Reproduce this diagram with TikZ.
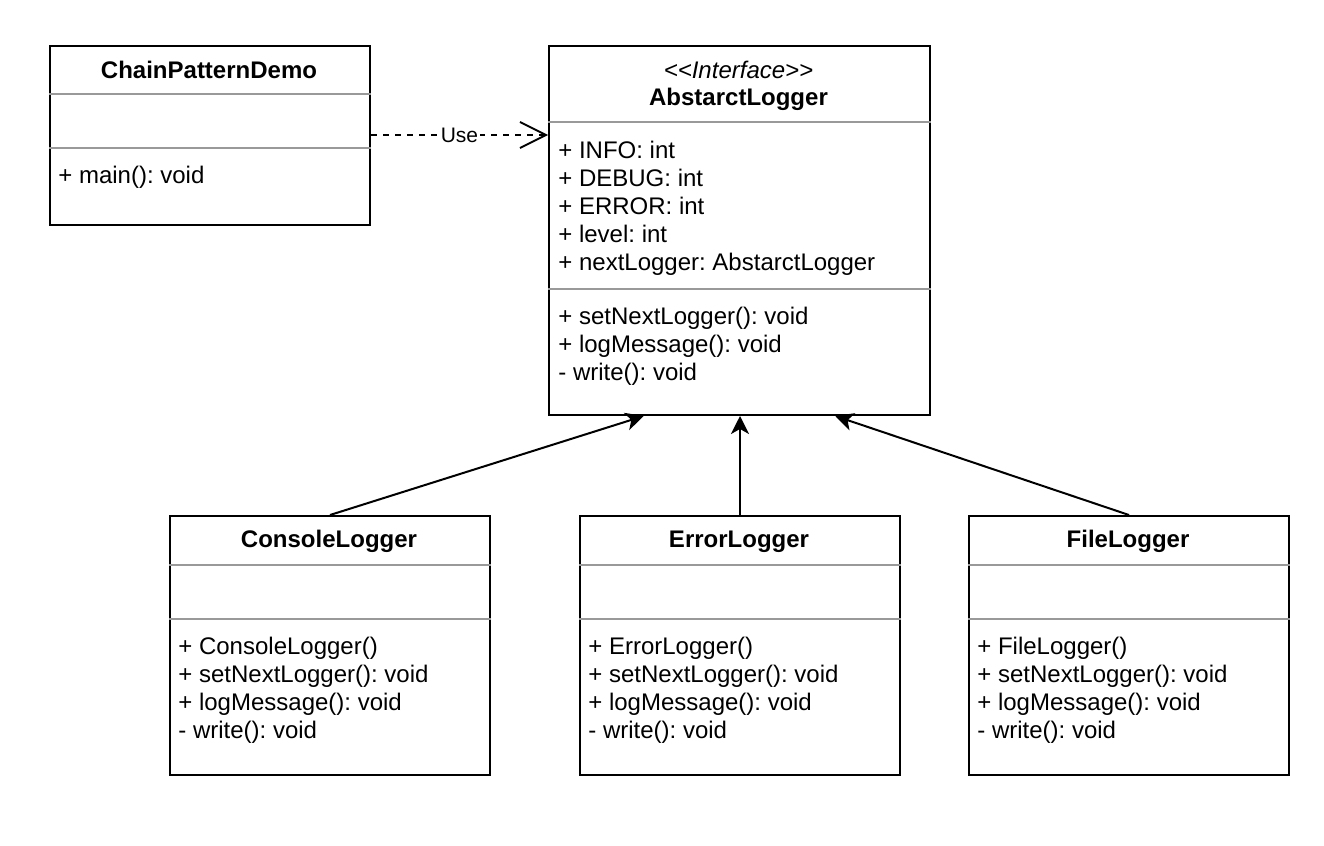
\documentclass[tikz,border=0pt]{standalone}
\usepackage{fontspec}
\setmainfont{Liberation Sans}
\usetikzlibrary{arrows.meta,calc}
\frenchspacing
\begin{document}
\begin{tikzpicture}[x=0.5pt,y=-0.5pt,
  umlbox/.style={draw, line width=1pt, anchor=north west, inner sep=0pt, fill=white},
  sep/.style={draw=black!40, line width=1pt},
  txt/.style={anchor=base west, inner sep=0pt, font=\fontsize{12pt}{14pt}\selectfont},
  ttl/.style={anchor=base, inner sep=0pt, font=\fontsize{12pt}{14pt}\selectfont\bfseries},
  stereo/.style={anchor=base, inner sep=0pt, font=\fontsize{12pt}{14pt}\selectfont\itshape},
  inherit/.style={line width=1pt, -{Stealth[length=9pt,width=9pt,inset=2.5pt]}},
  uses/.style={line width=0.75pt, dash pattern=on 3pt off 3pt, -{Straight Barb[length=13pt,width=13pt,line width=0.9pt]}},
  lbl/.style={fill=white, inner sep=1pt, font=\fontsize{10.5pt}{12pt}\selectfont}
]
\useasboundingbox (0,0) rectangle (1324,846);

% ChainPatternDemo
\node[umlbox, minimum width=160pt, minimum height=89.5pt] (demo) at (49,45) {};
\draw[sep] (demo.west |- 0,94) -- (demo.east |- 0,94);
\draw[sep] (demo.west |- 0,148) -- (demo.east |- 0,148);
\node[ttl] (demo-t) at (209,78) {ChainPatternDemo};
\node[txt] (demo-m1) at (58,183) {+ main(): void};

% AbstarctLogger
\node[umlbox, minimum width=190.5pt, minimum height=184.5pt] (al) at (548,45) {};
\draw[sep] (al.west |- 0,122) -- (al.east |- 0,122);
\draw[sep] (al.west |- 0,289) -- (al.east |- 0,289);
\node[stereo] (al-s) at (738.5,78) {{<}{<}Interface{>}{>}};
\node[ttl] (al-t) at (738.5,105) {AbstarctLogger};
\node[txt] (al-a1) at (558,158) {+ INFO: int};
\node[txt] (al-a2) at (558,186) {+ DEBUG: int};
\node[txt] (al-a3) at (558,214) {+ ERROR: int};
\node[txt] (al-a4) at (558,242) {+ level: int};
\node[txt] (al-a5) at (558,270) {+ nextLogger: AbstarctLogger};
\node[txt] (al-m1) at (558,324) {+ setNextLogger(): void};
\node[txt] (al-m2) at (558,352) {+ logMessage(): void};
\node[txt] (al-m3) at (558,380) {- write(): void};

% ConsoleLogger
\node[umlbox, minimum width=160pt, minimum height=129.5pt] (cl) at (169,515) {};
\draw[sep] (cl.west |- 0,565) -- (cl.east |- 0,565);
\draw[sep] (cl.west |- 0,619) -- (cl.east |- 0,619);
\node[ttl] (cl-t) at (329,547) {ConsoleLogger};
\node[txt] (cl-m1) at (178,654) {+ ConsoleLogger()};
\node[txt] (cl-m2) at (178,682) {+ setNextLogger(): void};
\node[txt] (cl-m3) at (178,710) {+ logMessage(): void};
\node[txt] (cl-m4) at (178,738) {- write(): void};

% ErrorLogger
\node[umlbox, minimum width=160pt, minimum height=129.5pt] (el) at (579,515) {};
\draw[sep] (el.west |- 0,565) -- (el.east |- 0,565);
\draw[sep] (el.west |- 0,619) -- (el.east |- 0,619);
\node[ttl] (el-t) at (739,547) {ErrorLogger};
\node[txt] (el-m1) at (588,654) {+ ErrorLogger()};
\node[txt] (el-m2) at (588,682) {+ setNextLogger(): void};
\node[txt] (el-m3) at (588,710) {+ logMessage(): void};
\node[txt] (el-m4) at (588,738) {- write(): void};

% FileLogger
\node[umlbox, minimum width=160pt, minimum height=129.5pt] (fl) at (968,515) {};
\draw[sep] (fl.west |- 0,565) -- (fl.east |- 0,565);
\draw[sep] (fl.west |- 0,619) -- (fl.east |- 0,619);
\node[ttl] (fl-t) at (1128,547) {FileLogger};
\node[txt] (fl-m1) at (977,654) {+ FileLogger()};
\node[txt] (fl-m2) at (977,682) {+ setNextLogger(): void};
\node[txt] (fl-m3) at (977,710) {+ logMessage(): void};
\node[txt] (fl-m4) at (977,738) {- write(): void};

% connectors
\draw[uses] (demo.east |- 0,135) -- node[lbl] (use-l) {Use} (al.west |- 0,135);
\draw[inherit] (cl.north) -- ($(al.south west)!0.25!(al.south east)$);
\draw[inherit] (el.north) -- (el.north |- al.south);
\draw[inherit] (fl.north) -- ($(al.south west)!0.75!(al.south east)$);
\end{tikzpicture}
\end{document}
